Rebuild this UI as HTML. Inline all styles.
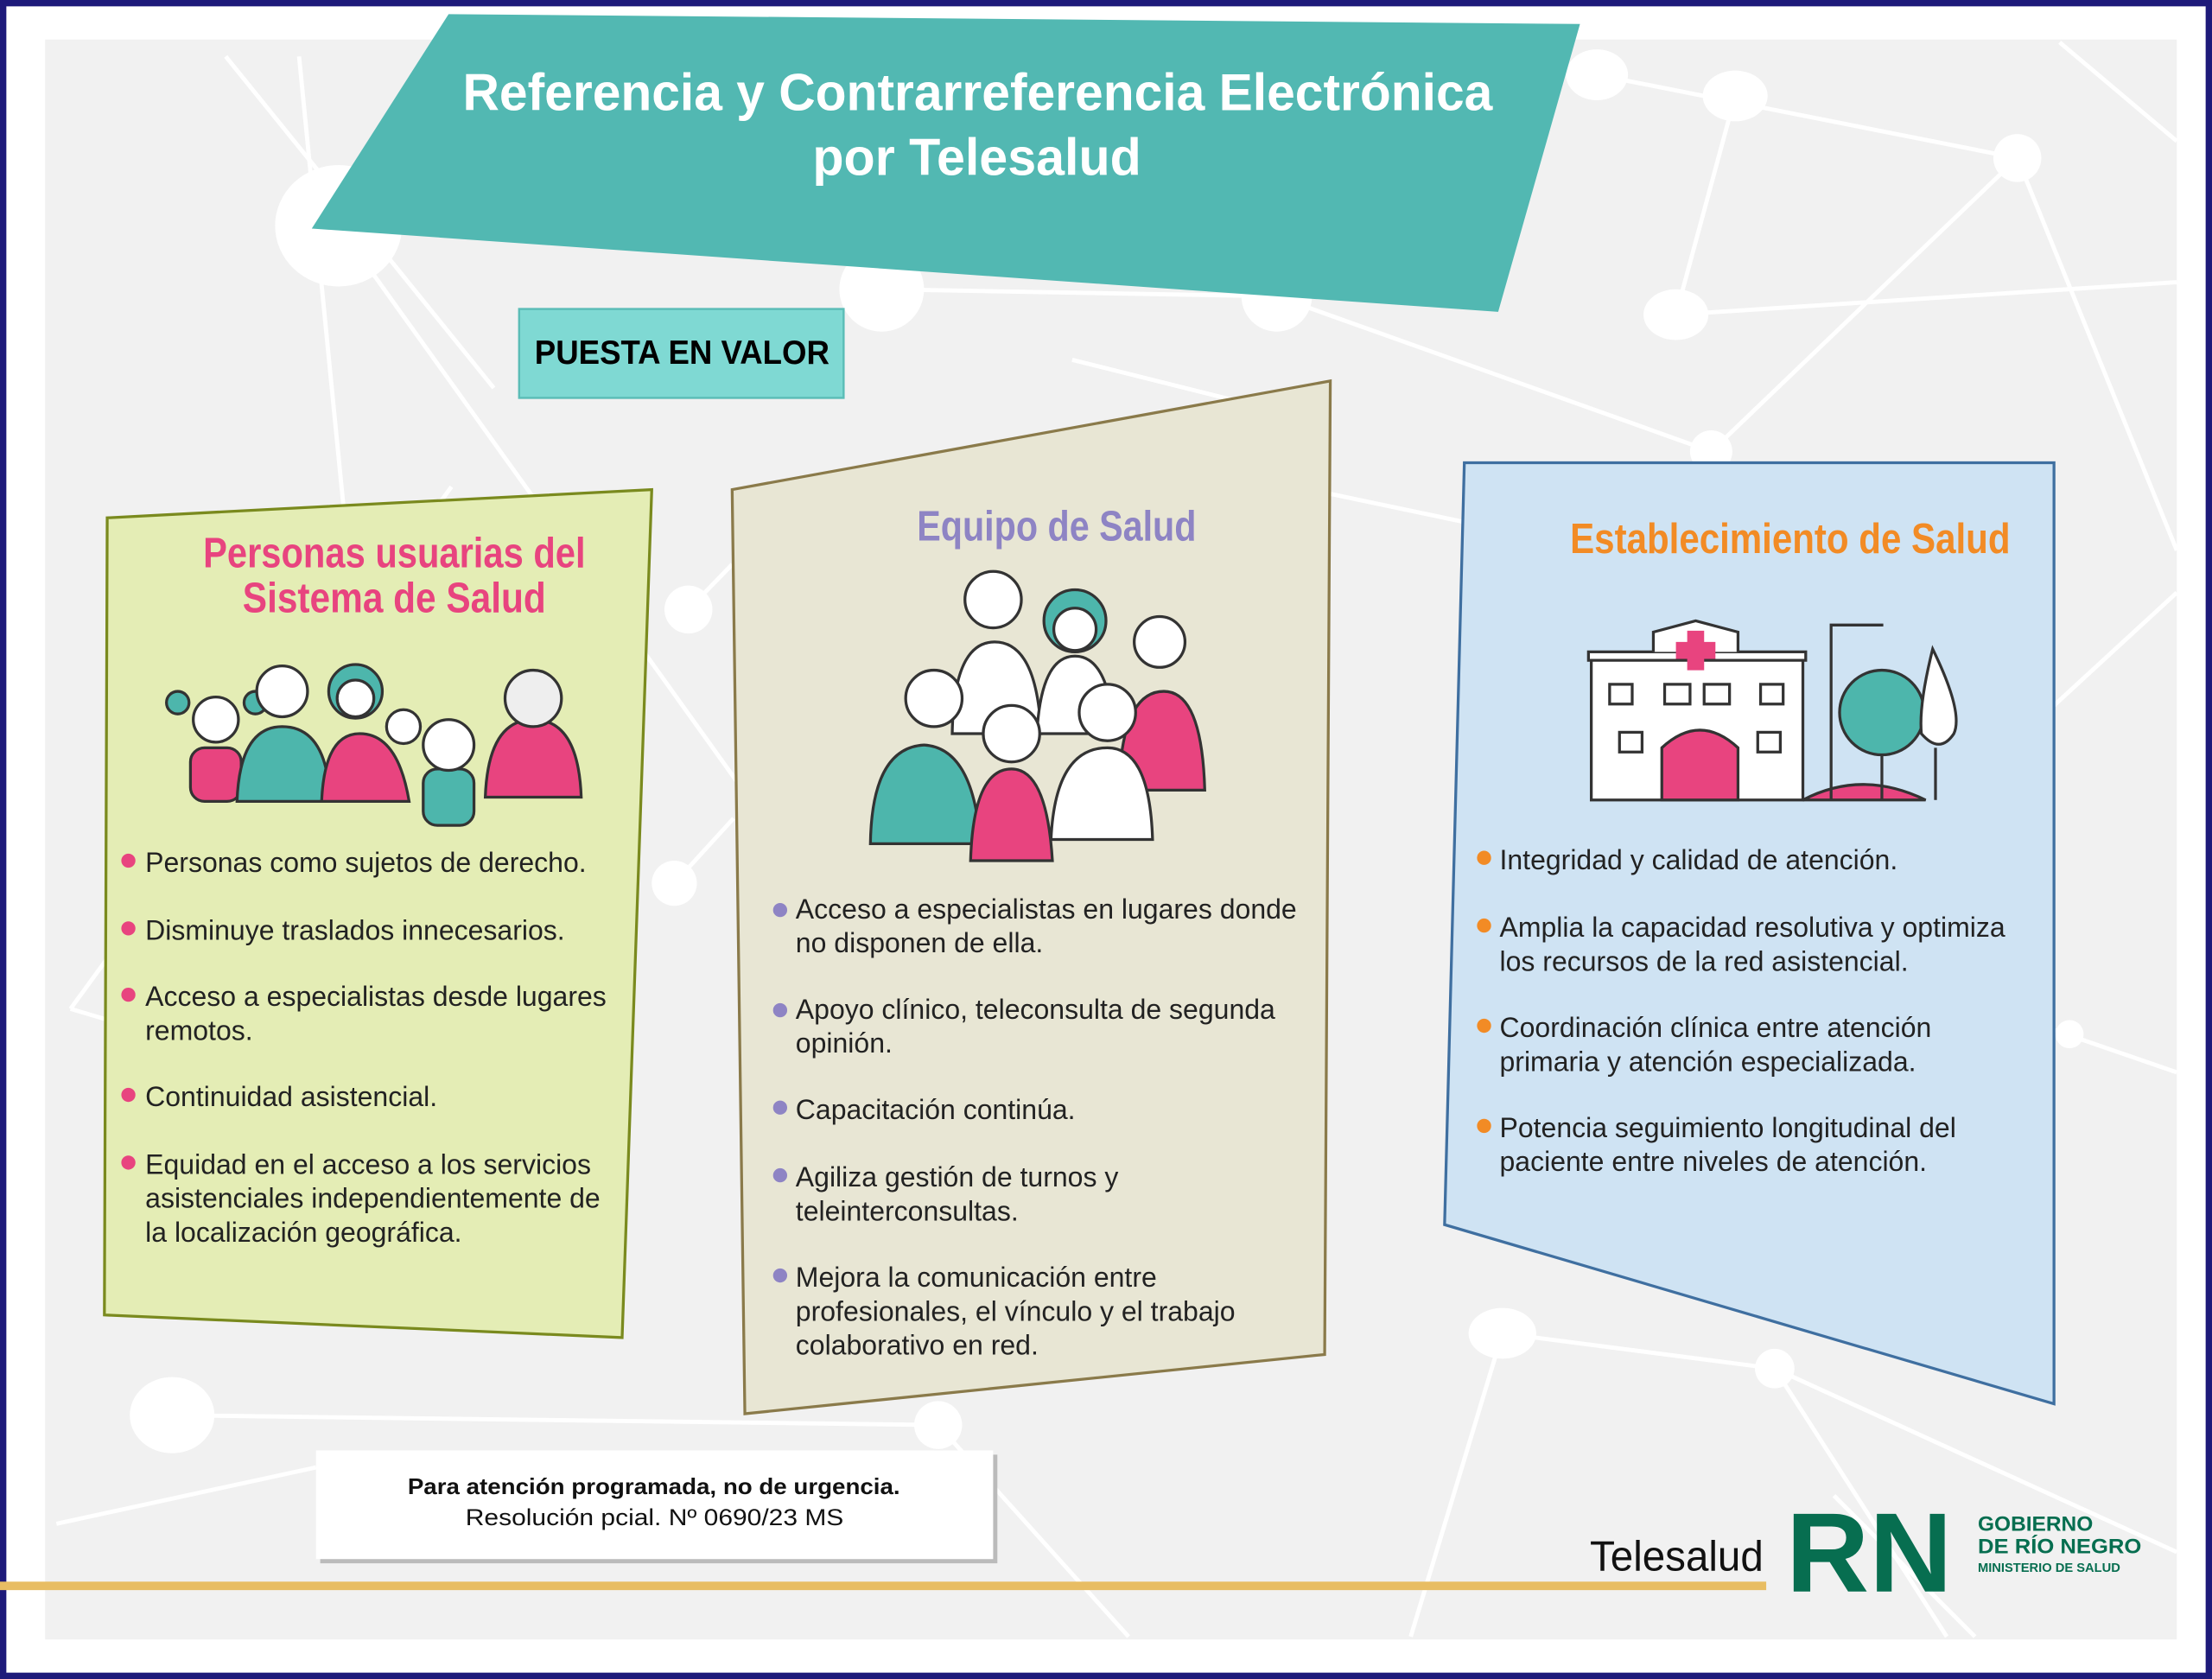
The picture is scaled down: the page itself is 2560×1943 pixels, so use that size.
<!DOCTYPE html>
<html><head><meta charset="utf-8"><style>
html,body{margin:0;padding:0;background:#fff}
svg{display:block}
text{font-family:"Liberation Sans",sans-serif}
.n{font-family:"Liberation Sans Narrow","Liberation Sans",sans-serif;font-weight:bold}
.b{font-size:19.6px;fill:#222}
</style></head><body>
<svg width="2560" height="1943" viewBox="0 0 1568 1190" preserveAspectRatio="none" xmlns="http://www.w3.org/2000/svg">
<rect x="0" y="0" width="1568" height="1190" fill="#fff"/>
<rect x="2" y="2" width="1564" height="1186" fill="none" stroke="#1e1a7a" stroke-width="5"/>
<rect x="32" y="28" width="1511" height="1134" fill="#f1f1f1"/>
<g stroke="#fff" stroke-width="3" fill="none">
<line x1="160" y1="40" x2="350" y2="275"/><line x1="212" y1="40" x2="285" y2="780"/>
<line x1="50" y1="715" x2="320" y2="345"/><line x1="50" y1="715" x2="285" y2="785"/>
<line x1="240" y1="160" x2="645" y2="725"/><line x1="720" y1="380" x2="775" y2="780"/>
<line x1="1132" y1="53" x2="1430" y2="112"/><line x1="1230" y1="68" x2="1188" y2="223"/>
<line x1="1430" y1="112" x2="1543" y2="390"/><line x1="1430" y1="112" x2="1213" y2="320"/>
<line x1="1188" y1="223" x2="1543" y2="200"/><line x1="905" y1="210" x2="1213" y2="320"/>
<line x1="625" y1="205" x2="905" y2="210"/><line x1="488" y1="432" x2="519" y2="400"/>
<line x1="122" y1="1003" x2="665" y2="1010"/><line x1="40" y1="1080" x2="224" y2="1040"/>
<line x1="1065" y1="945" x2="1258" y2="970"/><line x1="1258" y1="970" x2="1543" y2="1100"/>
<line x1="1065" y1="945" x2="1000" y2="1160"/><line x1="1300" y1="1060" x2="1400" y2="1160"/>
<line x1="1258" y1="970" x2="1380" y2="1160"/><line x1="665" y1="1010" x2="800" y2="1160"/>
<line x1="1456" y1="730" x2="1543" y2="760"/><line x1="1456" y1="500" x2="1543" y2="420"/>
<line x1="943" y1="350" x2="1038" y2="370"/><line x1="520" y1="580" x2="478" y2="626"/>
<line x1="1460" y1="30" x2="1543" y2="100"/><line x1="760" y1="255" x2="940" y2="300"/>
</g>
<g fill="#fff">
<ellipse cx="240" cy="160" rx="45" ry="43"/><ellipse cx="1132" cy="53" rx="22" ry="18"/>
<ellipse cx="1230" cy="68" rx="23" ry="18"/><circle cx="1430" cy="112" r="17"/>
<ellipse cx="1188" cy="223" rx="23" ry="18"/><circle cx="625" cy="205" r="30"/>
<circle cx="905" cy="210" r="25"/><circle cx="488" cy="432" r="17"/><circle cx="478" cy="626" r="16"/>
<ellipse cx="122" cy="1003" rx="30" ry="27"/><circle cx="665" cy="1010" r="17"/>
<ellipse cx="1065" cy="945" rx="24" ry="18"/><circle cx="1258" cy="970" r="14"/>
<circle cx="1213" cy="320" r="15"/><circle cx="1467" cy="733" r="10"/>
</g>
<!-- title -->
<polygon points="318,10 1120,17 1062,221 221,162" fill="#52b8b2"/>
<text class="n" x="328" y="78" font-size="37" fill="#fff" textLength="730" lengthAdjust="spacingAndGlyphs">Referencia y Contrarreferencia Electrónica</text>
<text class="n" x="576" y="124" font-size="37" fill="#fff" textLength="233" lengthAdjust="spacingAndGlyphs">por Telesalud</text>
<rect x="368" y="219" width="230" height="63" fill="#7fd9d3" stroke="#5bbdb7" stroke-width="1.5"/>
<text class="n" x="379" y="258" font-size="24" fill="#000" textLength="209" lengthAdjust="spacingAndGlyphs">PUESTA EN VALOR</text>
<!-- left panel -->
<polygon points="76,367 462,347 441,948 74,932" fill="#e4edb5" stroke="#7a8a1e" stroke-width="2"/>
<text class="n" x="144" y="402" font-size="30" fill="#e8447f" textLength="271" lengthAdjust="spacingAndGlyphs">Personas usuarias del</text>
<text class="n" x="172" y="434" font-size="30" fill="#e8447f" textLength="215" lengthAdjust="spacingAndGlyphs">Sistema de Salud</text>
<g stroke="#333" stroke-width="2">
<rect x="135" y="530" width="36" height="38" rx="10" fill="#e8447f"/><circle cx="153" cy="510" r="16" fill="#fff"/>
<circle cx="126" cy="498" r="8" fill="#4db6ac"/><circle cx="181" cy="498" r="8" fill="#4db6ac"/>
<path d="M168,568 Q170,515 200,515 Q232,515 234,568Z" fill="#4db6ac"/><circle cx="200" cy="490" r="18" fill="#fff"/>
<path d="M228,568 Q230,520 255,520 Q282,520 290,568Z" fill="#e8447f"/><circle cx="252" cy="490" r="19" fill="#4db6ac"/><circle cx="252" cy="495" r="13" fill="#fff"/>
<circle cx="286" cy="515" r="12" fill="#fff"/>
<rect x="300" y="545" width="36" height="40" rx="10" fill="#4db6ac"/><circle cx="318" cy="528" r="18" fill="#fff"/>
<path d="M344,565 Q346,510 378,510 Q410,510 412,565Z" fill="#e8447f"/><circle cx="378" cy="495" r="20" fill="#eee"/>
</g>
<g fill="#e8447f"><circle cx="91" cy="610" r="5"/><circle cx="91" cy="658" r="5"/><circle cx="91" cy="705" r="5"/><circle cx="91" cy="776" r="5"/><circle cx="91" cy="824" r="5"/></g>
<g class="b">
<text x="103" y="618">Personas como sujetos de derecho.</text>
<text x="103" y="666">Disminuye traslados innecesarios.</text>
<text x="103" y="713">Acceso a especialistas desde lugares</text>
<text x="103" y="737">remotos.</text>
<text x="103" y="784">Continuidad asistencial.</text>
<text x="103" y="832">Equidad en el acceso a los servicios</text>
<text x="103" y="856">asistenciales independientemente de</text>
<text x="103" y="880">la localización geográfica.</text>
</g>
<!-- middle panel -->
<polygon points="519,347 943,270 939,960 528,1002" fill="#e8e6d4" stroke="#8a7a4a" stroke-width="2"/>
<text class="n" x="650" y="383" font-size="30" fill="#8e84c4" textLength="198" lengthAdjust="spacingAndGlyphs">Equipo de Salud</text>
<g stroke="#333" stroke-width="2">
<path d="M675,520 Q676,455 705,455 Q735,455 738,520Z" fill="#fff"/><circle cx="704" cy="425" r="20" fill="#fff"/>
<path d="M735,520 Q738,465 762,465 Q786,465 790,520Z" fill="#fff"/><circle cx="762" cy="440" r="22" fill="#4db6ac"/><circle cx="762" cy="446" r="15" fill="#fff"/>
<path d="M793,560 Q795,490 825,490 Q852,490 854,560Z" fill="#e8447f"/><circle cx="822" cy="455" r="18" fill="#fff"/>
<path d="M617,598 Q618,530 655,528 Q690,530 695,598Z" fill="#4db6ac"/><circle cx="662" cy="495" r="20" fill="#fff"/>
<path d="M745,595 Q748,530 785,530 Q815,530 817,595Z" fill="#fff"/><circle cx="785" cy="505" r="20" fill="#fff"/>
<path d="M688,610 Q690,545 717,545 Q742,545 746,610Z" fill="#e8447f"/><circle cx="717" cy="520" r="20" fill="#fff"/>
</g>
<g fill="#8e84c4"><circle cx="553" cy="645" r="5"/><circle cx="553" cy="716" r="5"/><circle cx="553" cy="785" r="5"/><circle cx="553" cy="833" r="5"/><circle cx="553" cy="904" r="5"/></g>
<g class="b">
<text x="564" y="651">Acceso a especialistas en lugares donde</text>
<text x="564" y="675">no disponen de ella.</text>
<text x="564" y="722">Apoyo clínico, teleconsulta de segunda</text>
<text x="564" y="746">opinión.</text>
<text x="564" y="793">Capacitación continúa.</text>
<text x="564" y="841">Agiliza gestión de turnos y</text>
<text x="564" y="865">teleinterconsultas.</text>
<text x="564" y="912">Mejora la comunicación entre</text>
<text x="564" y="936">profesionales, el vínculo y el trabajo</text>
<text x="564" y="960">colaborativo en red.</text>
</g>
<!-- right panel -->
<polygon points="1038,328 1456,328 1456,995 1024,868" fill="#cfe3f3" stroke="#3f6fa0" stroke-width="2"/>
<text class="n" x="1113" y="392" font-size="30" fill="#f28b25" textLength="312" lengthAdjust="spacingAndGlyphs">Establecimiento de Salud</text>
<g stroke="#333" stroke-width="2">
<path d="M1278,567 Q1320,545 1365,567Z" fill="#e8447f"/>
<rect x="1128" y="465" width="150" height="102" fill="#fff"/>
<rect x="1126" y="462" width="154" height="6" fill="#fff"/>
<path d="M1172,462 L1172,448 L1202,440 L1232,448 L1232,462" fill="#fff"/>
<path d="M1178,567 L1178,530 Q1205,505 1232,530 L1232,567Z" fill="#e8447f"/>
<rect x="1141" y="485" width="16" height="14" fill="#fff"/><rect x="1180" y="485" width="18" height="14" fill="#fff"/><rect x="1208" y="485" width="18" height="14" fill="#fff"/><rect x="1248" y="485" width="16" height="14" fill="#fff"/>
<rect x="1148" y="519" width="16" height="14" fill="#fff"/><rect x="1246" y="519" width="16" height="14" fill="#fff"/>
<path d="M1298,567 L1298,443 L1335,443" fill="none"/>
<circle cx="1334" cy="505" r="30" fill="#4db6ac"/><line x1="1334" y1="535" x2="1334" y2="567"/>
<path d="M1370,460 Q1392,505 1385,520 Q1375,535 1362,520 Q1360,500 1370,460Z" fill="#fff"/><line x1="1372" y1="530" x2="1372" y2="567"/>
</g>
<path d="M1196,447 h12 v8 h8 v12 h-8 v8 h-12 v-8 h-8 v-12 h8z" fill="#e8447f"/>
<g fill="#f28b25"><circle cx="1052" cy="608" r="5"/><circle cx="1052" cy="656" r="5"/><circle cx="1052" cy="727" r="5"/><circle cx="1052" cy="798" r="5"/></g>
<g class="b">
<text x="1063" y="616">Integridad y calidad de atención.</text>
<text x="1063" y="664">Amplia la capacidad resolutiva y optimiza</text>
<text x="1063" y="688">los recursos de la red asistencial.</text>
<text x="1063" y="735">Coordinación clínica entre atención</text>
<text x="1063" y="759">primaria y atención especializada.</text>
<text x="1063" y="806">Potencia seguimiento longitudinal del</text>
<text x="1063" y="830">paciente entre niveles de atención.</text>
</g>
<!-- note -->
<rect x="227" y="1031" width="480" height="77" fill="#bbb"/>
<rect x="224" y="1028" width="480" height="77" fill="#fff"/>
<text x="289" y="1059" font-size="16" font-weight="bold" fill="#111" textLength="349" lengthAdjust="spacingAndGlyphs">Para atención programada, no de urgencia.</text>
<text x="330" y="1081" font-size="16.5" fill="#111" textLength="268" lengthAdjust="spacingAndGlyphs">Resolución pcial. Nº 0690/23 MS</text>
<!-- footer -->
<rect x="0" y="1121" width="1252" height="6" fill="#e8bd63"/>
<text x="1127" y="1113" font-size="30" fill="#111" textLength="123" lengthAdjust="spacingAndGlyphs">Telesalud</text>
<text x="1266" y="1128" font-size="80" font-weight="bold" fill="#076e50" textLength="118" lengthAdjust="spacingAndGlyphs">RN</text>
<g font-weight="bold" fill="#076e50">
<text x="1402" y="1085" font-size="15">GOBIERNO</text>
<text x="1402" y="1101" font-size="15" textLength="116" lengthAdjust="spacingAndGlyphs">DE RÍO NEGRO</text>
<text x="1402" y="1114" font-size="9">MINISTERIO DE SALUD</text>
</g>
</svg>
</body></html>
